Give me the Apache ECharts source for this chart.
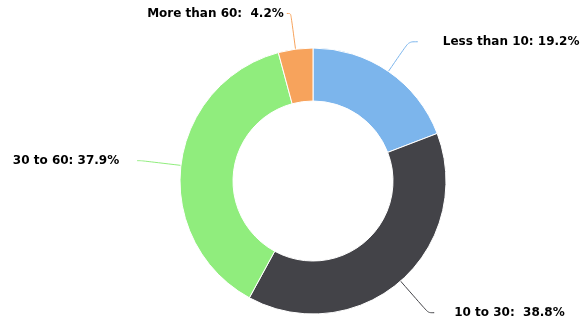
<!DOCTYPE html>
<html>
<head>
<meta charset="utf-8">
<script src="https://cdn.jsdelivr.net/npm/echarts@6/dist/echarts.min.js"></script>
<style>
  html, body { margin: 0; padding: 0; background: #fff; }
  #chart { width: 580px; height: 327px; }
</style>
</head>
<body>
<div id="chart"></div>
<script>
// slice names and their percentages
var categories = ['Less than 10', '10 to 30', '30 to 60', 'More than 60'];
var shares = [19.2, 38.8, 37.9, 4.2];
var separators = [': ', ':  ', ': ', ':  '];
var colors = ['#7cb5ec', '#434348', '#90ed7d', '#f7a35c'];

// connector tuning per slice (length, length2, gap to text)
var connectors = [
  { length: 36, length2: 9, gap: 25 },
  { length: 42, length2: 6, gap: 20 },
  { length: 40, length2: 4, gap: 18 },
  { length: 36, length2: 4, gap: 3 }
];

var chart = echarts.init(document.getElementById('chart'));

var data = categories.map(function (name, i) {
  return {
    name: name,
    value: shares[i],
    itemStyle: { color: colors[i] },
    labelLine: {
      length: connectors[i].length,
      length2: connectors[i].length2,
      lineStyle: { color: colors[i] }
    },
    label: { distanceToLabelLine: connectors[i].gap }
  };
});

chart.setOption({
  animation: false,
  series: [{
    type: 'pie',
    center: [313, 181],
    radius: [80, 133],
    startAngle: 90,
    clockwise: true,
    avoidLabelOverlap: false,
    itemStyle: { borderColor: '#ffffff', borderWidth: 1 },
    label: {
      show: true,
      position: 'outside',
      alignTo: 'none',
      fontFamily: 'DejaVu Sans',
      fontWeight: 'bold',
      fontSize: 12,
      color: '#000000',
      padding: [7, 0, 0, 0],
      formatter: function (p) {
        return p.name + separators[p.dataIndex] + p.value + '%';
      }
    },
    labelLine: {
      show: true,
      smooth: 0.3,
      lineStyle: { width: 1 }
    },
    emphasis: { disabled: true },
    data: data
  }]
});
</script>
</body>
</html>
